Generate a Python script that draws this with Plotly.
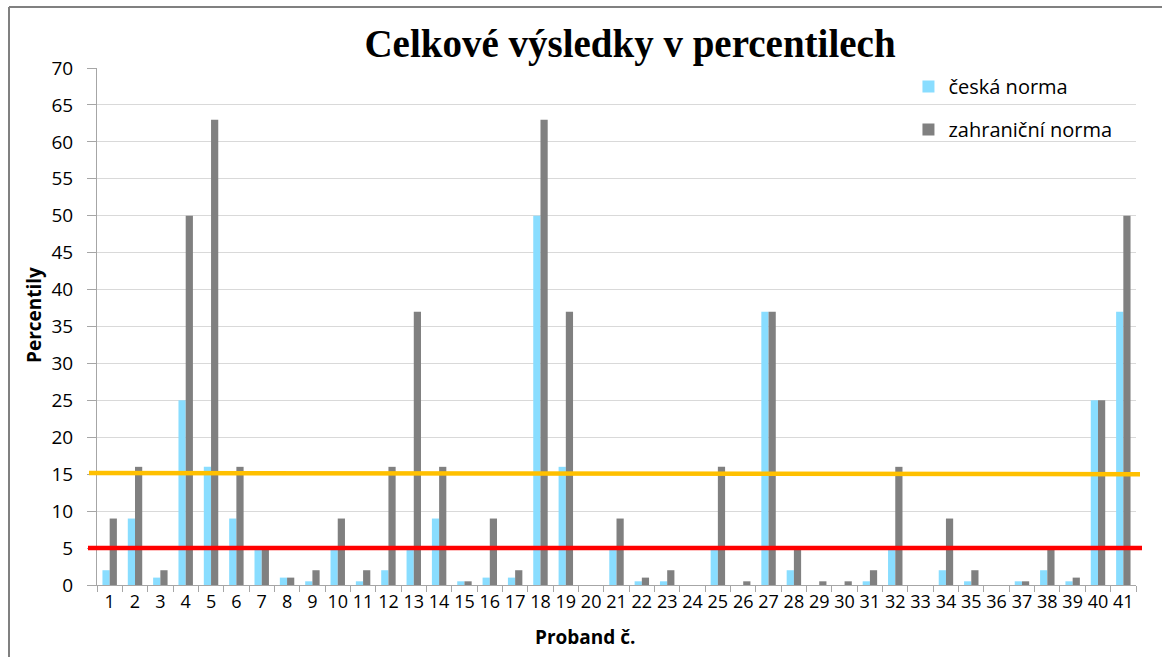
import plotly.graph_objects as go

probands = [str(i) for i in range(1, 42)]
ceska = [2, 9, 1, 25, 16, 9, 5, 1, 0.5, 5, 0.5, 2, 5, 9, 0.5, 1, 1, 50, 16, 0,
         5, 0.5, 0.5, 0, 5, 0, 37, 2, 0, 0, 0.5, 5, 0, 2, 0.5, 0, 0.5, 2, 0.5, 25, 37]
zahranicni = [9, 16, 2, 50, 63, 16, 5, 1, 2, 9, 2, 16, 37, 16, 0.5, 9, 2, 63, 37, 0,
              9, 1, 2, 0, 16, 0.5, 37, 5, 0.5, 0.5, 2, 16, 0, 9, 2, 0, 0.5, 5, 1, 25, 50]
series_names = ["česká norma", "zahraniční norma"]
title_text = "Celkové výsledky v percentilech"
y_title = "Percentily"
x_title = "Proband č."
orange_level = [15.15, 15.0]
red_level = 5

FONT = "Open Sans"

fig = go.Figure()
fig.add_trace(go.Bar(x=probands, y=ceska, name=series_names[0], legendgroup="a",
                     marker=dict(color="#89DDFF", line=dict(width=0))))
fig.add_trace(go.Bar(x=probands, y=zahranicni, name=series_names[1], legendgroup="b",
                     marker=dict(color="#808080", line=dict(width=0))))

fig.update_layout(
    width=1162, height=657,
    margin=dict(l=97, r=26, t=68, b=72),
    paper_bgcolor="white", plot_bgcolor="white",
    barmode="group", bargap=0.43, bargroupgap=0,
    font=dict(family=FONT, size=17, color="#000000"),
    title=dict(text=title_text, x=630 / 1162, xanchor="center", xref="container",
               y=1 - 43 / 657, yanchor="middle", yref="container",
               font=dict(family="Liberation Serif", size=39, color="#000000", weight="bold")),
    legend=dict(x=0.781, y=1 + 1 / 517, xanchor="left", yanchor="top",
                bgcolor="rgba(0,0,0,0)", traceorder="grouped", tracegroupgap=14,
                font=dict(family=FONT, size=20)),
    showlegend=True,
)
fig.update_xaxes(type="category", tickmode="linear", dtick=1, tickson="boundaries",
                 ticks="outside", ticklen=6, tickcolor="#a6a6a6", tickwidth=1,
                 tickangle=0,
                 showline=True, linecolor="#a6a6a6", linewidth=1,
                 showgrid=False, tickfont=dict(family=FONT, size=18), fixedrange=True)
fig.update_yaxes(range=[0, 70], dtick=5, tick0=0, ticks="outside", ticklen=9,
                 tickcolor="#a6a6a6", showline=True, linecolor="#a6a6a6", linewidth=1,
                 showgrid=True, gridcolor="#d9d9d9", gridwidth=1, zeroline=False,
                 ticklabelstandoff=10, tickfont=dict(family=FONT, size=19))

# axis titles
fig.add_annotation(text="<b>" + y_title + "</b>", xref="paper", yref="paper",
                   x=(34 - 97) / 1039, y=(585 - 315) / 517, textangle=-90,
                   showarrow=False, font=dict(family=FONT, size=19),
                   xanchor="center", yanchor="middle")
fig.add_annotation(text="<b>" + x_title + "</b>", xref="paper", yref="paper",
                   x=(585 - 97) / 1039, y=(585 - 637) / 517,
                   showarrow=False, font=dict(family=FONT, size=19),
                   xanchor="center", yanchor="middle")

# threshold lines
fig.add_shape(type="line", xref="paper", yref="y", x0=(89 - 97) / 1039, x1=(1140 - 97) / 1039,
              y0=orange_level[0], y1=orange_level[1], line=dict(color="#FFC000", width=4.5))
fig.add_shape(type="line", xref="paper", yref="y", x0=(88 - 97) / 1039, x1=(1142 - 97) / 1039,
              y0=red_level, y1=red_level, line=dict(color="#FF0000", width=4.5))

# chart border (top & left visible)
fig.add_shape(type="line", xref="paper", yref="paper", x0=(9 - 97) / 1039, x1=1.1,
              y0=1 + 61 / 517, y1=1 + 61 / 517, line=dict(color="#808080", width=2))
fig.add_shape(type="line", xref="paper", yref="paper", x0=(9 - 97) / 1039, x1=(9 - 97) / 1039,
              y0=1 + 61 / 517, y1=-0.2, line=dict(color="#808080", width=2))

fig.write_html("out.html")
